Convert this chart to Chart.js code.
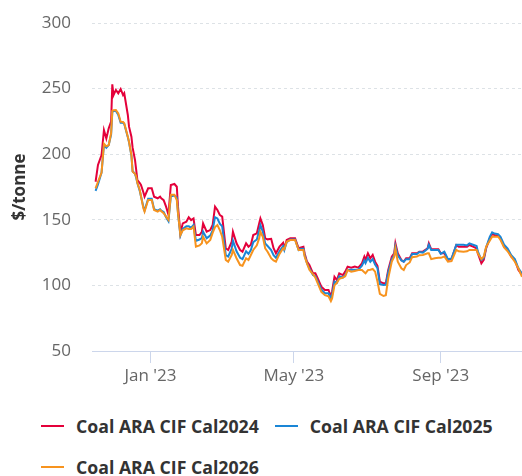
<!DOCTYPE html>
<html>
<head>
<meta charset="utf-8">
<script src="https://cdn.jsdelivr.net/npm/chart.js@4/dist/chart.umd.min.js"></script>
<style>
  body { margin: 0; background: #fff; font-family: "Open Sans", sans-serif; }
  #wrap { position: relative; width: 522px; height: 476px; }
  #box { position: absolute; left: 0; top: 0; width: 522px; height: 400px; }
  #legend { position: absolute; left: 41px; top: 405px; width: 481px; display: flex; flex-wrap: wrap; }
  .item { display: flex; align-items: center; height: 41px; margin-right: 16px; }
  .mark { width: 23px; height: 2px; margin-right: 12px; }
  .label { font-size: 17.7px; font-weight: 700; color: #333; white-space: nowrap; }
</style>
</head>
<body>
<div id="wrap">
  <div id="box"><canvas id="chart"></canvas></div>
  <div id="legend"></div>
</div>
<script>
const dates = [
  '2022-11-16','2022-11-18','2022-11-21','2022-11-23','2022-11-25','2022-11-27','2022-11-29','2022-11-30','2022-12-01','2022-12-03',
  '2022-12-05','2022-12-07','2022-12-09','2022-12-10','2022-12-13','2022-12-14','2022-12-16','2022-12-17','2022-12-19','2022-12-20',
  '2022-12-21','2022-12-23','2022-12-24','2022-12-26','2022-12-27','2022-12-30','2023-01-02','2023-01-04','2023-01-07','2023-01-09',
  '2023-01-10','2023-01-12','2023-01-14','2023-01-16','2023-01-18','2023-01-21','2023-01-23','2023-01-24','2023-01-26','2023-01-28',
  '2023-01-31','2023-02-02','2023-02-04','2023-02-06','2023-02-08','2023-02-11','2023-02-13','2023-02-14','2023-02-17','2023-02-20',
  '2023-02-22','2023-02-24','2023-02-26','2023-02-28','2023-03-02','2023-03-05','2023-03-07','2023-03-10','2023-03-11','2023-03-14',
  '2023-03-17','2023-03-19','2023-03-22','2023-03-24','2023-03-26','2023-03-28','2023-03-31','2023-04-02','2023-04-03','2023-04-05',
  '2023-04-07','2023-04-09','2023-04-12','2023-04-14','2023-04-16','2023-04-19','2023-04-22','2023-04-23','2023-04-25','2023-04-28',
  '2023-05-02','2023-05-05','2023-05-07','2023-05-09','2023-05-10','2023-05-12','2023-05-14','2023-05-17','2023-05-19','2023-05-21',
  '2023-05-24','2023-05-27','2023-05-30','2023-06-01','2023-06-02','2023-06-04','2023-06-06','2023-06-08','2023-06-11','2023-06-13',
  '2023-06-15','2023-06-18','2023-06-21','2023-06-24','2023-06-27','2023-06-29','2023-06-30','2023-07-02','2023-07-04','2023-07-06',
  '2023-07-08','2023-07-10','2023-07-12','2023-07-15','2023-07-17','2023-07-19','2023-07-22','2023-07-24','2023-07-25','2023-07-27',
  '2023-07-30','2023-08-01','2023-08-03','2023-08-06','2023-08-08','2023-08-12','2023-08-14','2023-08-17','2023-08-21','2023-08-22',
  '2023-08-24','2023-08-27','2023-08-30','2023-09-01','2023-09-04','2023-09-07','2023-09-10','2023-09-14','2023-09-16','2023-09-20',
  '2023-09-23','2023-09-25','2023-09-28','2023-10-01','2023-10-02','2023-10-05','2023-10-07','2023-10-09','2023-10-12','2023-10-14',
  '2023-10-16','2023-10-19','2023-10-21','2023-10-24','2023-10-27','2023-10-30','2023-11-02','2023-11-05','2023-11-08'
];

const cal2024 = [
  179, 191.8, 199.4, 218.4, 212, 219.7, 224.8, 253.3, 245, 249,
  246.4, 249.7, 245, 246.4, 229.9, 221, 213.3, 205, 195.6, 188,
  180.3, 178, 176.5, 171, 167.6, 174, 174, 167.6, 166.4, 167.6,
  166.4, 165, 160, 154, 176.5, 177.3, 175.2, 160, 139.7, 147.3,
  148.5, 151.9, 149.8, 151, 138.4, 138.4, 140.9, 147.3, 140.9, 142.2,
  146, 160, 157.5, 153.7, 152.4, 128.3, 127, 133.3, 140.9, 132.1,
  127, 125.7, 132.1, 129.5, 131, 138.4, 139.7, 147.3, 151, 146,
  135.9, 135.1, 135.5, 128.3, 124.5, 129.5, 132.5, 128.3, 134.6, 135.9,
  135.9, 128.3, 129, 129.5, 124.5, 118.1, 115.5, 109.2, 109.2, 105.4,
  99, 96.5, 96.5, 91.6, 95.2, 106.6, 104.1, 109.2, 107.9, 110.5,
  114.3, 113.5, 114.3, 113.5, 116.8, 121.9, 119.4, 124.5, 120.7, 123.2,
  118.1, 115, 102.8, 101.6, 101.6, 111.7, 121.9, 124.5, 132.1, 124.5,
  119.4, 118.1, 120.7, 120.7, 124.5, 124.5, 125.7, 125.7, 128.3, 132.1,
  127.5, 127.5, 127.5, 124.5, 124.5, 119.4, 120, 130.8, 129.5, 129.5,
  129.5, 130.8, 129.5, 128.3, 124.5, 116.8, 119.4, 128.3, 135.9, 139.2,
  138.4, 137.6, 135.9, 129.5, 127, 121.9, 119.4, 111.7, 107.9
];

const cal2025 = [
  172, 177, 186, 207, 205, 207, 215, 232, 233, 233,
  230, 224, 224, 223, 213, 209, 199, 187, 185, 182,
  178, 172, 168, 160, 157, 166, 166, 158, 157, 158,
  157, 156, 152, 149, 168, 168.5, 167, 155, 138, 143,
  145, 145, 144, 146, 134, 135, 136, 141, 136, 138,
  142, 152, 151, 147, 145, 123, 122, 128, 134, 126,
  121, 120, 126, 124, 127, 133, 135, 142, 146, 141,
  132, 130, 127, 123, 121, 126, 130, 127, 133, 135,
  135, 127, 128, 128, 123, 117, 113, 108, 107, 103,
  97, 94, 94, 90, 93, 103, 102, 107, 106, 108,
  112, 112, 112, 112, 115, 119, 117, 121, 118, 120,
  116, 113, 101, 100.4, 100.5, 110, 120, 123, 130, 123,
  119, 118, 120, 120, 124, 124, 125.5, 125, 128, 131,
  127, 127, 127, 124, 125.7, 120, 120.5, 131, 131, 131,
  130.5, 132, 131, 130, 126, 119.4, 121, 129, 137, 140.4,
  139.5, 139, 137, 131, 128, 123, 120, 113, 109
];

const cal2026 = [
  174, 179, 186, 208, 206, 207, 216, 233, 233.5, 233.7,
  231, 224.8, 224.5, 223.6, 213.3, 209.5, 199.4, 186.7, 185, 182.9,
  178, 172.7, 168, 158.8, 156.2, 165.1, 165.1, 157.5, 156.2, 157.5,
  156.5, 155, 152.4, 150, 169, 169, 165, 155, 138.4, 142,
  143.5, 143, 143, 144.8, 129.5, 130.5, 132.1, 137.1, 132, 134.6,
  140, 144.5, 146, 142.2, 137.1, 119.4, 118.1, 123.2, 127, 120.7,
  115.5, 115, 120.7, 119.4, 123.2, 127, 130.5, 136, 140.9, 137,
  128.3, 125.7, 120.7, 119, 118.1, 124, 128.3, 127.5, 133.3, 134.6,
  134.6, 127, 127, 127, 122, 116.8, 112, 108.5, 106, 101.5,
  95, 92.5, 91.6, 88, 90, 100, 102, 105, 106, 107,
  111.7, 110.5, 111, 111.7, 111.7, 110, 109.2, 111.7, 112, 112.5,
  110.5, 103, 93.5, 91.9, 92.5, 105.4, 118.1, 121.9, 128, 118,
  113, 111.7, 115.5, 117.5, 121.5, 122, 123, 123.2, 124.5, 124.5,
  120, 120.7, 121, 121, 122, 118.1, 118.5, 127, 126, 125.7,
  126, 127, 127, 127, 124.5, 120, 122, 129.5, 134, 137.1,
  137.1, 137.1, 134.6, 129, 126, 121.9, 118, 112.9, 106.6
];

const seriesNames = ['Coal ARA CIF Cal2024', 'Coal ARA CIF Cal2025', 'Coal ARA CIF Cal2026'];
const tickDates = ['2023-01-01', '2023-05-01', '2023-09-01'];
const tickLabels = ["Jan '23", "May '23", "Sep '23"];
const yTicks = [50, 100, 150, 200, 250, 300];
const xRange = ['2022-11-13', '2023-11-08'];

// days since 2023-01-01, so the x axis is a plain linear scale
const base = Date.UTC(2023, 0, 1);
function dayOf(s) {
  const p = s.split('-').map(Number);
  return Math.round((Date.UTC(p[0], p[1] - 1, p[2]) - base) / 86400000);
}
const xs = dates.map(dayOf);
const tickDays = tickDates.map(dayOf);
const points = vals => vals.map((v, i) => ({ x: xs[i], y: v }));

const colors = ['#e4003a', '#1a86d6', '#f7931e'];
const allValues = [cal2024, cal2025, cal2026];

const datasets = allValues.map((vals, i) => ({
  label: seriesNames[i],
  data: points(vals),
  borderColor: colors[i],
  backgroundColor: colors[i],
  borderWidth: 2,
  pointRadius: 0,
  tension: 0,
  order: 2 - i
}));

const tickFont = { family: 'Open Sans', size: 17 };

new Chart(document.getElementById('chart'), {
  type: 'line',
  data: { datasets },
  options: {
    responsive: true,
    maintainAspectRatio: false,
    animation: false,
    layout: { padding: { top: 23, right: 0, left: 0, bottom: 0 } },
    plugins: {
      legend: { display: false },
      tooltip: { enabled: false }
    },
    scales: {
      x: {
        type: 'linear',
        min: dayOf(xRange[0]),
        max: dayOf(xRange[1]),
        afterBuildTicks: scale => { scale.ticks = tickDays.map(v => ({ value: v })); },
        afterFit: scale => { scale.height = 49; },
        ticks: {
          color: '#666',
          font: tickFont,
          padding: 3,
          maxRotation: 0,
          callback: v => tickLabels[tickDays.indexOf(v)]
        },
        grid: { drawOnChartArea: false, drawTicks: true, tickLength: 12, color: '#ccd6eb' },
        border: { display: true, color: '#ccd6eb', width: 1 }
      },
      y: {
        min: 50,
        max: 300,
        afterBuildTicks: scale => { scale.ticks = yTicks.map(v => ({ value: v })); },
        afterFit: scale => { scale.width = 92; },
        ticks: { color: '#666', font: tickFont, padding: 0 },
        // invisible tick marks keep a 21px gap between labels and plot
        grid: { color: '#dde2e6', drawTicks: true, tickLength: 21, tickColor: 'rgba(0,0,0,0)' },
        border: { display: false, dash: [3, 3] },
        title: {
          display: true,
          text: '$/tonne',
          color: '#333',
          font: { family: 'Open Sans', size: 17, weight: 'bold' },
          padding: { top: 10, bottom: 0 }
        }
      }
    }
  }
});

// html legend, left aligned like the original
const legend = document.getElementById('legend');
datasets.forEach(ds => {
  const item = document.createElement('div');
  item.className = 'item';
  const mark = document.createElement('span');
  mark.className = 'mark';
  mark.style.background = ds.borderColor;
  const label = document.createElement('span');
  label.className = 'label';
  label.textContent = ds.label;
  item.appendChild(mark);
  item.appendChild(label);
  legend.appendChild(item);
});
</script>
</body>
</html>
